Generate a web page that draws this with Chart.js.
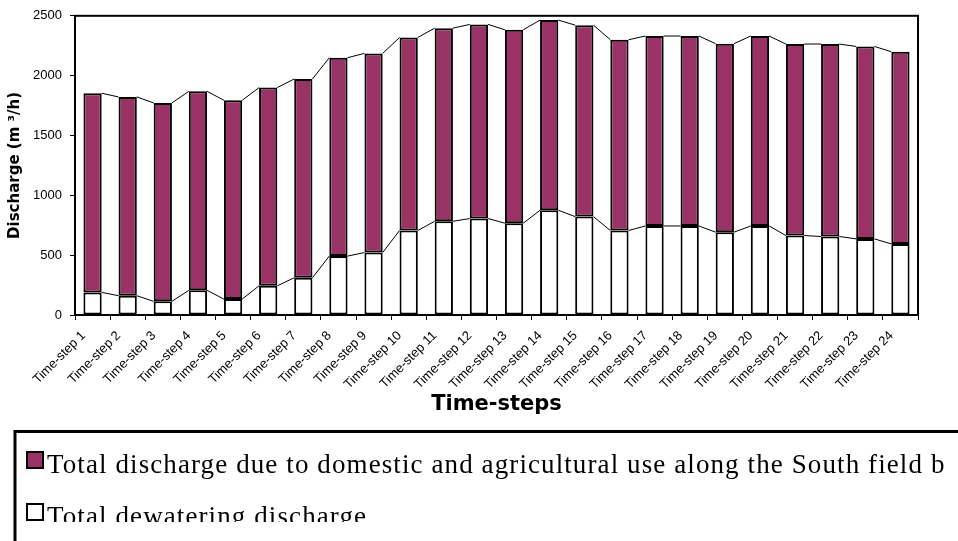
<!DOCTYPE html>
<html>
<head>
<meta charset="utf-8">
<script src="https://cdn.jsdelivr.net/npm/chart.js@4.4.1/dist/chart.umd.min.js"></script>
<style>
    html, body { margin: 0; padding: 0; background: #fff; }
    #wrap { width: 958px; height: 541px; position: relative; }
</style>
</head>
<body>
<div id="wrap"><canvas id="dischargeChart"></canvas></div>
<script>
// Categories (x axis)
const timeSteps = [
    'Time-step 1', 'Time-step 2', 'Time-step 3', 'Time-step 4', 'Time-step 5', 'Time-step 6',
    'Time-step 7', 'Time-step 8', 'Time-step 9', 'Time-step 10', 'Time-step 11', 'Time-step 12',
    'Time-step 13', 'Time-step 14', 'Time-step 15', 'Time-step 16', 'Time-step 17', 'Time-step 18',
    'Time-step 19', 'Time-step 20', 'Time-step 21', 'Time-step 22', 'Time-step 23', 'Time-step 24'
];

// Bottom segment - dewatering discharge (m3/h)
const dewatering = [189, 161, 114, 206, 133, 244, 311, 492, 522, 706, 783, 806,
                    767, 875, 822, 706, 744, 744, 692, 744, 664, 656, 636, 594];

// Top segment - domestic + agricultural discharge (m3/h)
const domesticAgri = [1664, 1661, 1658, 1663, 1661, 1656, 1661, 1658, 1664, 1613, 1614, 1622,
                      1616, 1589, 1600, 1594, 1587, 1587, 1575, 1587, 1600, 1608, 1608, 1606];

// Y axis ticks
const yTicks = [0, 500, 1000, 1500, 2000, 2500];

const seriesNames = [
    'Total dewatering discharge',
    'Total discharge due to domestic and agricultural use along the South field b'
];

const SANS = 'Arial, "Liberation Sans", sans-serif';
const WIDE_SANS = '"DejaVu Sans", Arial, sans-serif';
const SERIF = '"Times New Roman", "Liberation Serif", serif';

/** Thin connector lines between stacked segment tops (Excel "series lines") */
const seriesLines = {
    id: 'seriesLines',
    afterDatasetsDraw(chart) {
        const ctx = chart.ctx;
        ctx.save();
        ctx.strokeStyle = '#000';
        ctx.lineWidth = 1;
        chart.data.datasets.forEach((ds, di) => {
            const bars = chart.getDatasetMeta(di).data;
            for (let i = 0; i < bars.length - 1; i++) {
                const a = bars[i].getProps(['x', 'y', 'width'], true);
                const b = bars[i + 1].getProps(['x', 'y', 'width'], true);
                ctx.beginPath();
                ctx.moveTo(a.x + a.width / 2, a.y);
                ctx.lineTo(b.x - b.width / 2, b.y);
                ctx.stroke();
            }
        });
        ctx.restore();
    }
};

/** Box round the plot area (top and right edges) */
const plotFrame = {
    id: 'plotFrame',
    afterDraw(chart) {
        const { ctx, chartArea: a } = chart;
        ctx.save();
        ctx.strokeStyle = '#000';
        ctx.lineWidth = 2;
        ctx.strokeRect(a.left, a.top, a.right - a.left, a.bottom - a.top);
        ctx.restore();
    }
};

/** Boxed legend under the chart, drawn from the datasets */
const boxLegend = {
    id: 'boxLegend',
    afterDraw(chart) {
        const ctx = chart.ctx;
        const items = chart.data.datasets.slice().reverse();
        ctx.save();
        // frame (left and top edges only; the rest falls outside the picture)
        ctx.strokeStyle = '#000';
        ctx.lineWidth = 3;
        ctx.beginPath();
        ctx.moveTo(15, 541);
        ctx.lineTo(15, 431.5);
        ctx.lineTo(958, 431.5);
        ctx.stroke();

        ctx.beginPath();
        ctx.rect(0, 0, 958, 522);
        ctx.clip();

        ctx.font = '27px ' + SERIF;
        ctx.letterSpacing = '1.1px';
        ctx.textBaseline = 'alphabetic';
        items.forEach((ds, i) => {
            const top = 452 + i * 52;
            ctx.fillStyle = ds.backgroundColor;
            ctx.fillRect(27, top, 16, 16);
            ctx.strokeStyle = '#000';
            ctx.lineWidth = 2;
            ctx.strokeRect(27, top, 16, 16);
            ctx.fillStyle = '#000';
            ctx.fillText(ds.label, 47, top + 21);
        });
        ctx.letterSpacing = '0px';
        ctx.restore();
    }
};

const ctx = document.getElementById('dischargeChart').getContext('2d');

new Chart(ctx, {
    type: 'bar',
    data: {
        labels: timeSteps,
        datasets: [
            {
                label: seriesNames[0],
                data: dewatering,
                backgroundColor: '#ffffff',
                borderColor: '#000',
                borderWidth: 2,
                borderSkipped: false
            },
            {
                label: seriesNames[1],
                data: domesticAgri,
                backgroundColor: '#993366',
                borderColor: '#000',
                borderWidth: 2,
                borderSkipped: false
            }
        ]
    },
    options: {
        responsive: true,
        maintainAspectRatio: false,
        animation: false,
        layout: { padding: { top: 15, right: 40, bottom: 118, left: 0 } },
        datasets: {
            bar: { barPercentage: 0.52, categoryPercentage: 1 }
        },
        scales: {
            x: {
                stacked: true,
                afterFit: scale => { scale.height = 108; },
                grid: { drawOnChartArea: false, drawTicks: true, tickLength: 5, color: '#000' },
                border: { display: true, color: '#000', width: 2 },
                ticks: {
                    autoSkip: false,
                    minRotation: 45,
                    maxRotation: 45,
                    padding: 8,
                    labelOffset: -9,
                    color: '#000',
                    font: { family: SANS, size: 13 }
                },
                title: {
                    display: true,
                    text: 'Time-steps',
                    color: '#000',
                    padding: { top: 4, bottom: 6 },
                    font: { family: WIDE_SANS, size: 21, weight: 'bold' }
                }
            },
            y: {
                stacked: true,
                min: yTicks[0],
                max: yTicks[yTicks.length - 1],
                afterFit: scale => { scale.width = 75; },
                afterBuildTicks: scale => { scale.ticks = yTicks.map(v => ({ value: v })); },
                grid: { drawOnChartArea: false, drawTicks: true, tickLength: 5, color: '#000' },
                border: { display: true, color: '#000', width: 2 },
                ticks: {
                    padding: 8,
                    color: '#000',
                    font: { family: SANS, size: 13 },
                    callback: v => String(v)
                },
                title: {
                    display: true,
                    text: 'Discharge (m ³/h)',
                    color: '#000',
                    padding: { top: 6, bottom: 0 },
                    font: { family: WIDE_SANS, size: 15, weight: 'bold' }
                }
            }
        },
        plugins: {
            legend: { display: false },
            tooltip: { enabled: false }
        }
    },
    plugins: [seriesLines, plotFrame, boxLegend]
});
</script>
</body>
</html>
